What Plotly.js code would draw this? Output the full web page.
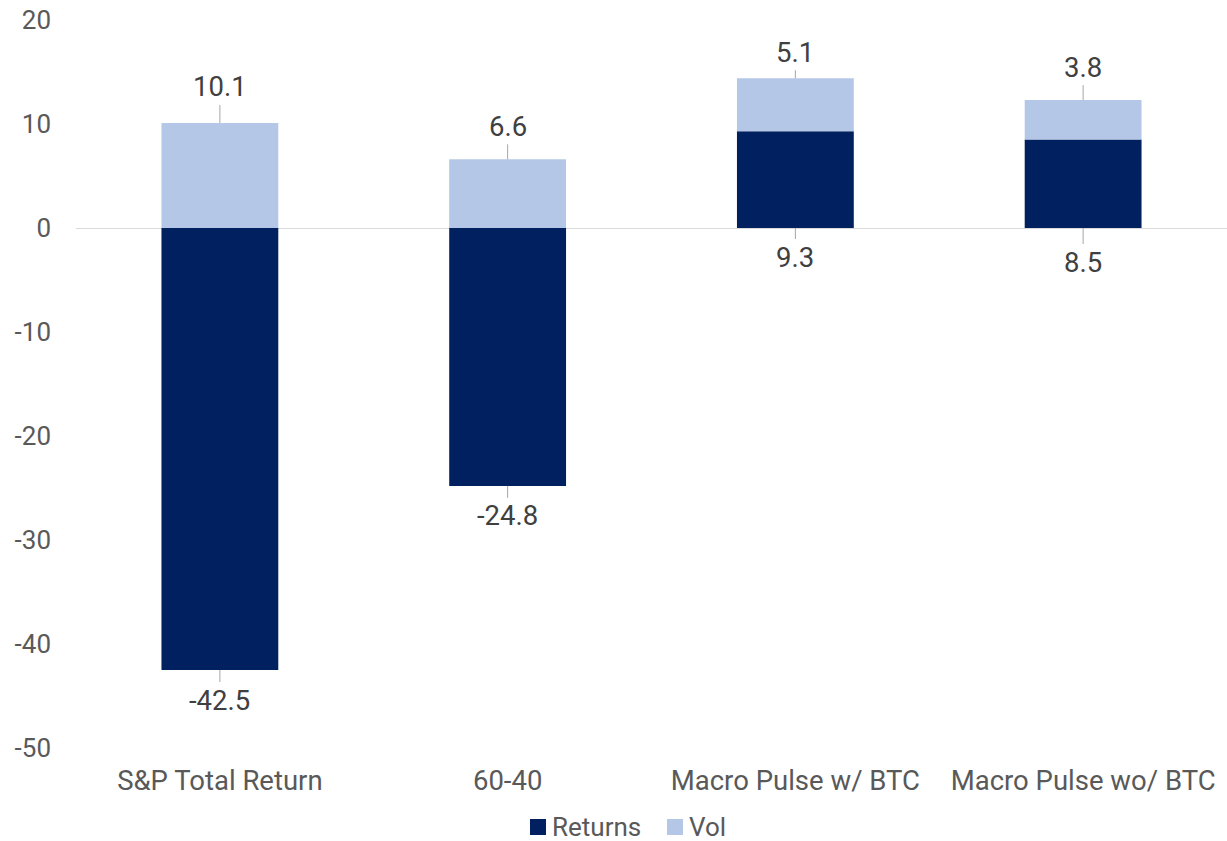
<!DOCTYPE html>
<html>
<head>
<meta charset="utf-8">
<script src="https://cdn.plot.ly/plotly-3.0.1.min.js"></script>
<style>
  html, body { margin: 0; padding: 0; background: #ffffff; }
  #chart { width: 1227px; height: 841px; }
</style>
</head>
<body>
<div id="chart"></div>
<script>
const categories = ["S&P Total Return", "60-40", "Macro Pulse w/ BTC", "Macro Pulse wo/ BTC"];
const returnsValues = [-42.5, -24.8, 9.3, 8.5];
const volValues = [10.1, 6.6, 5.1, 3.8];
const yTickValues = [20, 10, 0, -10, -20, -30, -40, -50];
const seriesNames = ["Returns", "Vol"];

// label placement (pixel offsets of data labels from the bar ends)
const returnsLabelOffset = [30, 30, 29, 34];
const volLabelOffset = [-36, -33, -26, -33];

const colors = ["#002060", "#b4c7e7"];
const fontFamily = "Roboto, 'Liberation Sans', sans-serif";
const fs = 26;
const labelFs = 27.5;

const W = 1227, H = 841;
const M = { l: 76, r: 0, t: 20, b: 93 };
const plotW = W - M.l - M.r, plotH = H - M.t - M.b;
const px2x = px => (px - M.l) / plotW;
const py2y = py => (H - M.b - py) / plotH;

const traces = [
  {
    type: "bar", name: seriesNames[0], x: categories, y: returnsValues,
    marker: { color: colors[0], line: { width: 0 } },
    hoverinfo: "x+y", showlegend: false
  },
  {
    type: "bar", name: seriesNames[1], x: categories, y: volValues,
    marker: { color: colors[1], line: { width: 0 } },
    hoverinfo: "x+y", showlegend: false
  }
];

const annotations = [];
categories.forEach((c, i) => {
  const r = returnsValues[i];
  const v = volValues[i];
  annotations.push({
    x: c, y: Math.min(0, r), xref: "x", yref: "y",
    text: r.toFixed(1), showarrow: true, arrowhead: 0, arrowwidth: 1,
    arrowcolor: "#a6a6a6", ax: 0, ay: returnsLabelOffset[i],
    font: { family: fontFamily, size: labelFs, color: "#404040" }
  });
  annotations.push({
    x: c, y: Math.max(0, r) + v, xref: "x", yref: "y",
    text: v.toFixed(1), showarrow: true, arrowhead: 0, arrowwidth: 1,
    arrowcolor: "#a6a6a6", ax: 0, ay: volLabelOffset[i],
    font: { family: fontFamily, size: labelFs, color: "#404040" }
  });
});

// custom legend (square swatch + name), laid out in pixels
const legendY = 827;
const legendSwatchX = [530, 667];
const shapes = [];
seriesNames.forEach((name, i) => {
  shapes.push({
    type: "rect", xref: "paper", yref: "paper",
    x0: px2x(legendSwatchX[i]), x1: px2x(legendSwatchX[i] + 16),
    y0: py2y(legendY + 8), y1: py2y(legendY - 8),
    fillcolor: colors[i], line: { width: 0 }
  });
  annotations.push({
    xref: "paper", yref: "paper",
    x: px2x(legendSwatchX[i] + 20), y: py2y(legendY),
    xanchor: "left", yanchor: "middle", showarrow: false,
    text: name,
    font: { family: fontFamily, size: 26, color: "#595959" }
  });
});

const layout = {
  width: W, height: H,
  margin: M,
  paper_bgcolor: "#ffffff", plot_bgcolor: "#ffffff",
  barmode: "relative",
  bargap: 0.594,
  font: { family: fontFamily, size: fs, color: "#595959" },
  xaxis: {
    type: "category", automargin: false,
    showgrid: false, showline: false, zeroline: false, ticks: "",
    tickfont: { family: fontFamily, size: 27.5, color: "#595959" },
    ticklabelstandoff: 13
  },
  yaxis: {
    range: [-50, 20], automargin: false,
    tickvals: yTickValues,
    ticktext: yTickValues.map(String),
    showgrid: false, showline: false,
    zeroline: true, zerolinecolor: "#d9d9d9", zerolinewidth: 1,
    ticks: "",
    tickfont: { family: fontFamily, size: fs, color: "#595959" },
    ticklabelstandoff: 24
  },
  showlegend: false,
  shapes: shapes,
  annotations: annotations
};

Plotly.newPlot("chart", traces, layout, { displayModeBar: false, staticPlot: true });
</script>
</body>
</html>
